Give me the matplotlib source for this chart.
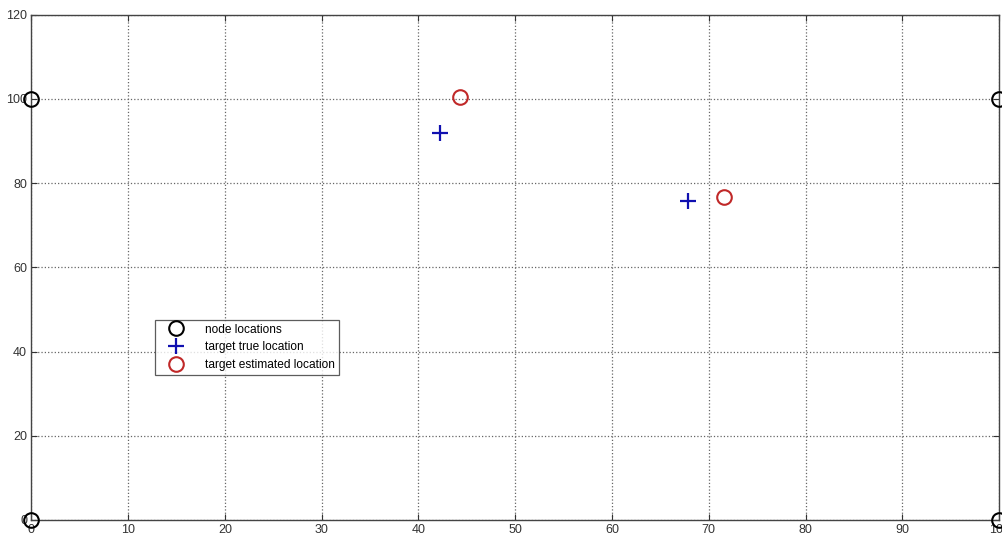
import matplotlib
matplotlib.use("Agg")
import matplotlib.pyplot as plt

# node (anchor) positions
node_x = [0, 0, 100, 100]
node_y = [0, 100, 0, 100]

# true target positions
true_x = [42.2, 67.8]
true_y = [91.9, 75.8]

# estimated target positions
est_x = [44.3, 71.6]
est_y = [100.5, 76.7]

plt.rcParams['font.family'] = ['Liberation Sans', 'DejaVu Sans']

fig = plt.figure(figsize=(10.02, 5.38), dpi=100)
ax = fig.add_axes([0.0312, 0.0335, 0.966, 0.939])

ax.plot(node_x, node_y, 'o', mfc='none', mec='black', ms=10.5, mew=1.5,
        label='node locations', clip_on=False, zorder=5)
ax.plot(true_x, true_y, '+', color='#1010b0', ms=12, mew=1.6,
        label='target true location', zorder=5)
ax.plot(est_x, est_y, 'o', mfc='none', mec='#c02828', ms=10.5, mew=1.5,
        label='target estimated location', zorder=5)

ax.set_xlim(0, 100)
ax.set_ylim(0, 120)
ax.set_xticks(range(0, 101, 10))
ax.set_yticks(range(0, 121, 20))
ax.tick_params(direction='in', length=4, labelsize=9, colors='#333333',
               top=True, right=True, pad=3)
ax.grid(True, linestyle=':', color='#666666', linewidth=0.9)
for s in ax.spines.values():
    s.set_color('#444444')
    s.set_linewidth(1.0)

leg = ax.legend(loc='upper left', bbox_to_anchor=(0.128, 0.396), fontsize=8.6,
                frameon=True, fancybox=False, edgecolor='#333333',
                borderpad=0.3, labelspacing=0.5, handletextpad=1.0,
                handlelength=2.9, borderaxespad=0)
leg.get_frame().set_linewidth(0.9)

fig.savefig('out.png', dpi=100)
